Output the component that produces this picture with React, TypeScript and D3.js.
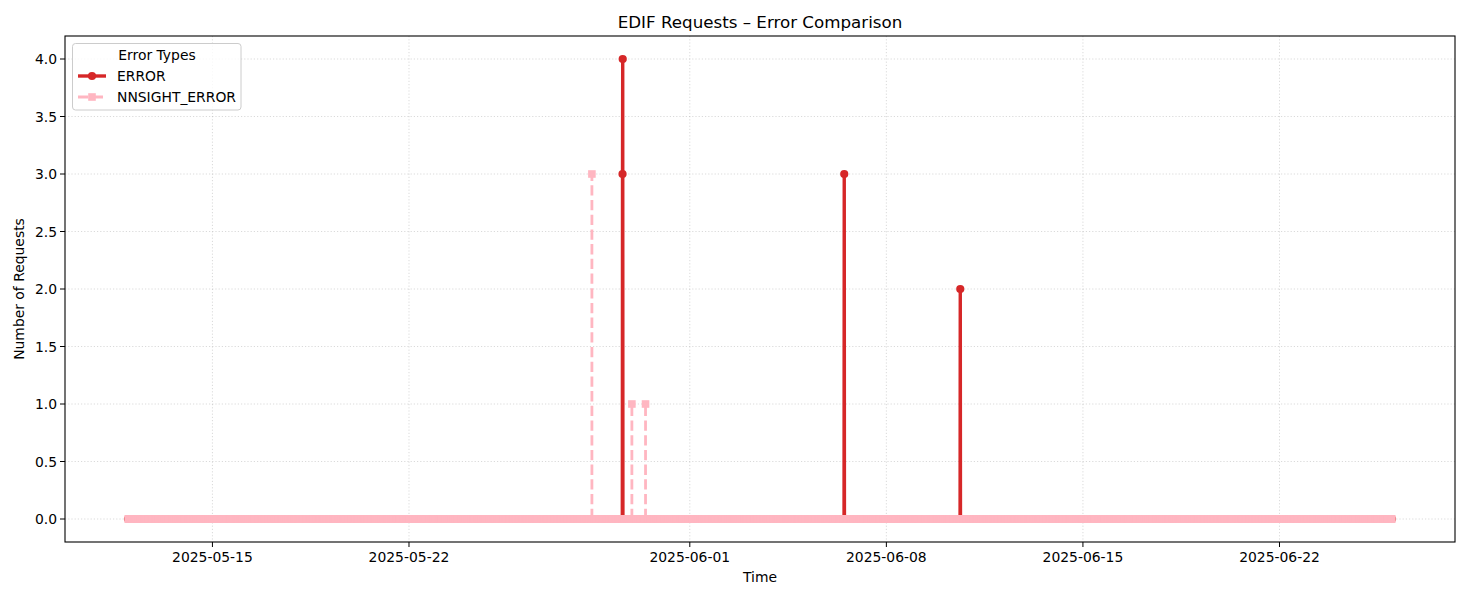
import React from 'react';
import * as d3 from 'd3';

// ---- data ----
const rangeStart = '2025-05-12T00:00';
const rangeEnd = '2025-06-26T00:00';
const stepMinutes = 10;
const errorSpikes = [
  { t: '2025-05-29T14:30', v: 3 },
  { t: '2025-05-29T14:40', v: 4 },
  { t: '2025-06-06T12:00', v: 3 },
  { t: '2025-06-10T15:10', v: 2 },
];
const nnsightSpikes = [
  { t: '2025-05-28T12:20', v: 3 },
  { t: '2025-05-29T22:30', v: 1 },
  { t: '2025-05-30T10:10', v: 1 },
];
const xTickLabels = ['2025-05-15', '2025-05-22', '2025-06-01', '2025-06-08', '2025-06-15', '2025-06-22'];
const yTickValues = [0, 0.5, 1, 1.5, 2, 2.5, 3, 3.5, 4];

const parseT = d3.utcParse('%Y-%m-%dT%H:%M');
const parseD = d3.utcParse('%Y-%m-%d');

type Pt = { d: Date; v: number };

function buildSeries(spikes: { t: string; v: number }[]): Pt[] {
  const start = parseT(rangeStart)!;
  const end = parseT(rangeEnd)!;
  const m = new Map<number, number>();
  spikes.forEach((s) => m.set(parseT(s.t)!.getTime(), s.v));
  return d3.utcMinute
    .every(stepMinutes)!
    .range(start, d3.utcMinute.offset(end, 1))
    .map((d) => ({ d, v: m.get(d.getTime()) ?? 0 }));
}

const errorData = buildSeries(errorSpikes);
const nnsightData = buildSeries(nnsightSpikes);

const W = 1470, H = 600;
const L = 65, R = 1455, T = 36, B = 542;
const FONT = 'DejaVu Sans, sans-serif';
const FS = 13.9;

export default function App() {
  const t0 = parseT(rangeStart)!.getTime();
  const t1 = parseT(rangeEnd)!.getTime();
  const pad = (t1 - t0) * 0.05;
  const x = d3.scaleUtc().domain([new Date(t0 - pad), new Date(t1 + pad)]).range([L, R]);
  const y = d3.scaleLinear().domain([-0.2, 4.2]).range([B, T]);
  const line = d3.line<Pt>().x((p) => x(p.d)).y((p) => y(p.v));
  const xTicks = xTickLabels.map((s) => ({ s, d: parseD(s)! }));

  // dashed series: draw baseline and each rise (up-stroke) separately so the dash pattern stays visible
  const nnZero = nnsightData.filter((p) => p.v === 0);
  const nnRises: Pt[][] = [];
  nnsightData.forEach((p, i) => {
    if (p.v !== 0) {
      const prev = nnsightData[i - 1];
      nnRises.push([{ d: p.d, v: prev ? prev.v : 0 }, p]);
    }
  });

  return (
    <svg width={W} height={H} style={{ position: 'absolute', left: 0, top: 0, background: '#fff' }} fontFamily={FONT}>
      <rect x={0} y={0} width={W} height={H} fill="#fff" />
      {/* grid */}
      <g stroke="#b0b0b0" strokeOpacity={0.6} strokeWidth={0.8} strokeDasharray="1.2,2">
        {xTicks.map((t) => (
          <line key={t.s} x1={x(t.d)} x2={x(t.d)} y1={T} y2={B} />
        ))}
        {yTickValues.map((v) => (
          <line key={v} x1={L} x2={R} y1={y(v)} y2={y(v)} />
        ))}
      </g>
      {/* ERROR series */}
      <path d={line(errorData)!} fill="none" stroke="#d62728" strokeWidth={3.4} strokeLinejoin="round" />
      <g fill="#d62728">
        {errorData.filter((p, i) => p.v !== 0 || i % 3 === 0).map((p, i) => (
          <circle key={i} cx={x(p.d)} cy={y(p.v)} r={4.1} />
        ))}
      </g>
      {/* NNSIGHT_ERROR series */}
      <g fill="none" stroke="#ffb6c1" strokeWidth={2.8} strokeDasharray="10.3,4.4">
        <path d={line(nnZero)!} />
        {nnRises.map((seg, i) => (
          <path key={i} d={line(seg)!} />
        ))}
      </g>
      <g fill="#ffb6c1">
        {nnsightData.filter((p, i) => p.v !== 0 || i % 3 === 0).map((p, i) => (
          <rect key={i} x={x(p.d) - 3.8} y={y(p.v) - 3.8} width={7.6} height={7.6} />
        ))}
      </g>
      {/* spines */}
      <rect x={L} y={T} width={R - L} height={B - T} fill="none" stroke="#000" strokeWidth={1.1} />
      {/* ticks */}
      <g fontSize={FS} fill="#000">
        {xTicks.map((t) => (
          <g key={t.s}>
            <line x1={x(t.d)} x2={x(t.d)} y1={B} y2={B + 5} stroke="#000" strokeWidth={1} />
            <text x={x(t.d)} y={B + 20} textAnchor="middle">{t.s}</text>
          </g>
        ))}
        {yTickValues.map((v) => (
          <g key={v}>
            <line x1={L - 5} x2={L} y1={y(v)} y2={y(v)} stroke="#000" strokeWidth={1} />
            <text x={L - 8} y={y(v) + 5} textAnchor="end">{v.toFixed(1)}</text>
          </g>
        ))}
      </g>
      {/* labels */}
      <text x={(L + R) / 2} y={28} textAnchor="middle" fontSize={16.7}>EDIF Requests – Error Comparison</text>
      <text x={(L + R) / 2} y={582} textAnchor="middle" fontSize={FS}>Time</text>
      <text transform={`translate(24, ${(T + B) / 2}) rotate(-90)`} textAnchor="middle" fontSize={FS}>Number of Requests</text>
      {/* legend */}
      <g>
        <rect x={72.5} y={43.5} width={168.5} height={66.5} rx={3} fill="#fff" fillOpacity={0.8} stroke="#cccccc" strokeWidth={1} />
        <text x={157} y={60} textAnchor="middle" fontSize={FS}>Error Types</text>
        <line x1={78} x2={106} y1={76} y2={76} stroke="#d62728" strokeWidth={3.4} />
        <circle cx={92} cy={76} r={4.1} fill="#d62728" />
        <text x={117} y={81} fontSize={FS}>ERROR</text>
        <line x1={78} x2={106} y1={97} y2={97} stroke="#ffb6c1" strokeWidth={2.8} strokeDasharray="10.3,4.4" />
        <rect x={92 - 3.8} y={97 - 3.8} width={7.6} height={7.6} fill="#ffb6c1" />
        <text x={117} y={102} fontSize={FS}>NNSIGHT_ERROR</text>
      </g>
    </svg>
  );
}
